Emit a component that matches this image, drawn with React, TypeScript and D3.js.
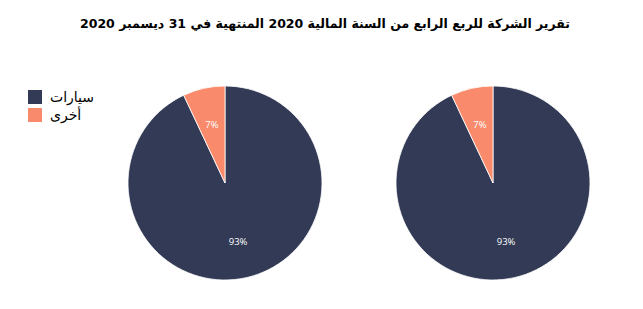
import React from "react";
import * as d3 from "d3";

const title = "تقرير الشركة للربع الرابع من السنة المالية 2020 المنتهية في 31 ديسمبر 2020";
const categories = ["سيارات", "أخرى"];
const pieA = [93, 7];
const pieB = [93, 7];
const colors = ["#323a56", "#f98b6c"];

const W = 643;
const H = 309;

function Pie({ values, cx, cy, r }: { values: number[]; cx: number; cy: number; r: number }) {
  const arcs = d3.pie<number>().sort(null).value((d) => d)(values);
  const arc = d3.arc<d3.PieArcDatum<number>>().innerRadius(0).outerRadius(r);
  const labelArc = d3.arc<d3.PieArcDatum<number>>().innerRadius(r * 0.62).outerRadius(r * 0.62);
  const total = d3.sum(values);
  return (
    <g transform={`translate(${cx},${cy})`}>
      {arcs.map((a, i) => (
        <path key={i} d={arc(a) || ""} fill={colors[i]} stroke="#ffffff" strokeWidth={0.8} />
      ))}
      {arcs.map((a, i) => {
        const [x, y] = labelArc.centroid(a);
        return (
          <text key={"t" + i} x={x} y={y} dy="0.35em" textAnchor="middle" fill="#ffffff"
            fontSize={9.5} fontFamily="'Open Sans', sans-serif">
            {Math.round((values[i] / total) * 100) + "%"}
          </text>
        );
      })}
    </g>
  );
}

export default function App() {
  return (
    <svg width={W} height={H} style={{ display: "block", position: "absolute", left: 0, top: 0 }}>
      <rect width={W} height={H} fill="#ffffff" />
      <text x={325} y={28} textAnchor="middle" fontSize={13} fontWeight="bold"
        fontFamily="'DejaVu Sans', sans-serif" fill="#000" textLength={490} lengthAdjust="spacingAndGlyphs">{title}</text>
      {categories.map((c, i) => (
        <g key={c} transform={`translate(28,${90 + i * 18})`}>
          <rect width={14} height={14} fill={colors[i]} />
          <text x={22} y={7} dy="0.35em" fontSize={14} fontFamily="'DejaVu Sans', sans-serif" fill="#000">{c}</text>
        </g>
      ))}
      <Pie values={pieA} cx={225} cy={183} r={97} />
      <Pie values={pieB} cx={493} cy={183} r={97} />
    </svg>
  );
}
